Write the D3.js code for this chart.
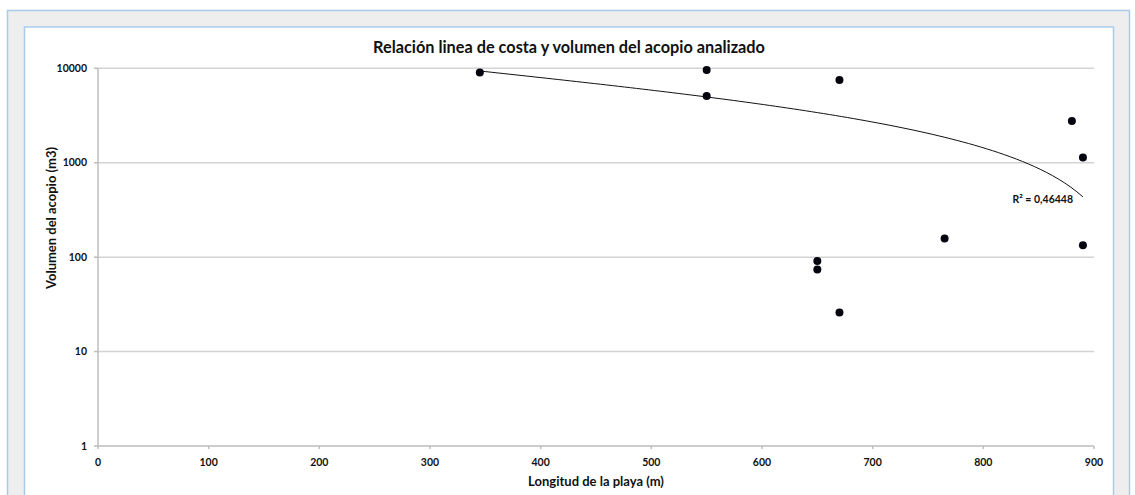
<!DOCTYPE html>
<html>
<head>
<meta charset="utf-8">
<script src="https://cdn.jsdelivr.net/npm/d3@7"></script>
<style>
    body { margin: 0; background: #ffffff; }
    text { font-family: Lato, "Open Sans", sans-serif; font-weight: bold; fill: #111111; }
    .grid { stroke: #d3d3d3; stroke-width: 1.5; }
    .axisLine { stroke: #bdbdbd; stroke-width: 1.5; }
</style>
</head>
<body>
<div id="scene"></div>
<script>
// beach length (m) and volume (m3) of each point
const longitudes = [345, 550, 550, 670, 650, 650, 670, 765, 880, 890, 890];
const volumes = [9000, 9600, 5100, 7500, 91, 74, 26, 158, 2770, 1135, 134];

const xTicks = [0, 100, 200, 300, 400, 500, 600, 700, 800, 900];
const yTicks = [1, 10, 100, 1000, 10000];

const chartTitle = 'Relación linea de costa y volumen del acopio analizado';
const xTitle = 'Longitud de la playa (m)';
const yTitle = 'Volumen del acopio (m3)';
const r2Label = 'R² = 0,46448';

const width = 1135;
const height = 495;

const svg = d3.select('#scene')
    .append('svg')
    .attr('width', width)
    .attr('height', height);

// frames
svg.append('rect')
    .attr('x', 7.5).attr('y', 10.5)
    .attr('width', 1122).attr('height', 520)
    .attr('fill', '#eeeeee')
    .attr('stroke', '#a8cbea')
    .attr('stroke-width', 1.5);

svg.append('rect')
    .attr('x', 24.5).attr('y', 27)
    .attr('width', 1089).attr('height', 520)
    .attr('fill', '#ffffff')
    .attr('stroke', '#a8cbea')
    .attr('stroke-width', 1.5);

const xScale = d3.scaleLinear().domain([0, 900]).range([98, 1094]);
const yScale = d3.scaleLog().base(10).domain([1, 10000]).range([446, 68.3]);

const chart = svg.append('g');

// gridlines
chart.selectAll('.grid')
    .data(yTicks.filter(d => d > 1))
    .enter().append('line')
    .attr('class', 'grid')
    .attr('x1', xScale(0))
    .attr('x2', xScale(900))
    .attr('y1', d => yScale(d))
    .attr('y2', d => yScale(d));

// axes
chart.append('line')
    .attr('class', 'axisLine')
    .attr('x1', xScale(0)).attr('x2', xScale(900))
    .attr('y1', yScale(1)).attr('y2', yScale(1));

chart.append('line')
    .attr('class', 'axisLine')
    .attr('x1', xScale(0)).attr('x2', xScale(0))
    .attr('y1', yScale(1)).attr('y2', yScale(10000));

chart.selectAll('.yTicks')
    .data(yTicks)
    .enter().append('line')
    .attr('class', 'axisLine')
    .attr('x1', xScale(0) - 4).attr('x2', xScale(0))
    .attr('y1', d => yScale(d)).attr('y2', d => yScale(d));

chart.selectAll('.xTicks')
    .data(xTicks)
    .enter().append('line')
    .attr('class', 'axisLine')
    .attr('x1', d => xScale(d)).attr('x2', d => xScale(d))
    .attr('y1', yScale(1)).attr('y2', yScale(1) + 3);

chart.selectAll('.yLabel')
    .data(yTicks)
    .enter().append('text')
    .attr('class', 'yLabel')
    .text(String)
    .attr('x', xScale(0) - 11)
    .attr('y', d => yScale(d))
    .attr('dy', 3.5)
    .attr('text-anchor', 'end')
    .style('font-size', '10.5px');

chart.selectAll('.xLabel')
    .data(xTicks)
    .enter().append('text')
    .attr('class', 'xLabel')
    .text(String)
    .attr('x', d => xScale(d))
    .attr('y', 466)
    .attr('text-anchor', 'middle')
    .style('font-size', '10.5px');

// titles
svg.append('text')
    .attr('x', 569)
    .attr('y', 53)
    .attr('text-anchor', 'middle')
    .style('font-size', '16.3px')
    .text(chartTitle);

svg.append('text')
    .attr('x', 596)
    .attr('y', 486)
    .attr('text-anchor', 'middle')
    .style('font-size', '13px')
    .text(xTitle);

svg.append('text')
    .attr('transform', 'translate(56,218) rotate(-90)')
    .attr('text-anchor', 'middle')
    .style('font-size', '13px')
    .text(yTitle);

// logarithmic trendline (least squares on ln x)
const lnX = longitudes.map(d => Math.log(d));
const meanLnX = d3.mean(lnX);
const meanY = d3.mean(volumes);
const sxy = d3.sum(lnX, (d, i) => (d - meanLnX) * (volumes[i] - meanY));
const sxx = d3.sum(lnX, d => (d - meanLnX) * (d - meanLnX));
const slope = sxy / sxx;
const intercept = meanY - slope * meanLnX;

const [minX, maxX] = d3.extent(longitudes);
const trendData = d3.range(0, 101).map(i => {
    const x = minX + (maxX - minX) * i / 100;
    return { x: x, y: intercept + slope * Math.log(x) };
});

const line = d3.line()
    .x(d => xScale(d.x))
    .y(d => yScale(d.y));

chart.append('path')
    .datum(trendData)
    .attr('d', line)
    .attr('fill', 'none')
    .attr('stroke', '#111111')
    .attr('stroke-width', 1);

// points
chart.selectAll('circle')
    .data(longitudes)
    .enter().append('circle')
    .attr('cx', d => xScale(d))
    .attr('cy', (d, i) => yScale(volumes[i]))
    .attr('r', 4)
    .attr('fill', '#05050f');

svg.append('text')
    .attr('x', 1073)
    .attr('y', 203)
    .attr('text-anchor', 'end')
    .style('font-size', '10.5px')
    .text(r2Label);
</script>
</body>
</html>
